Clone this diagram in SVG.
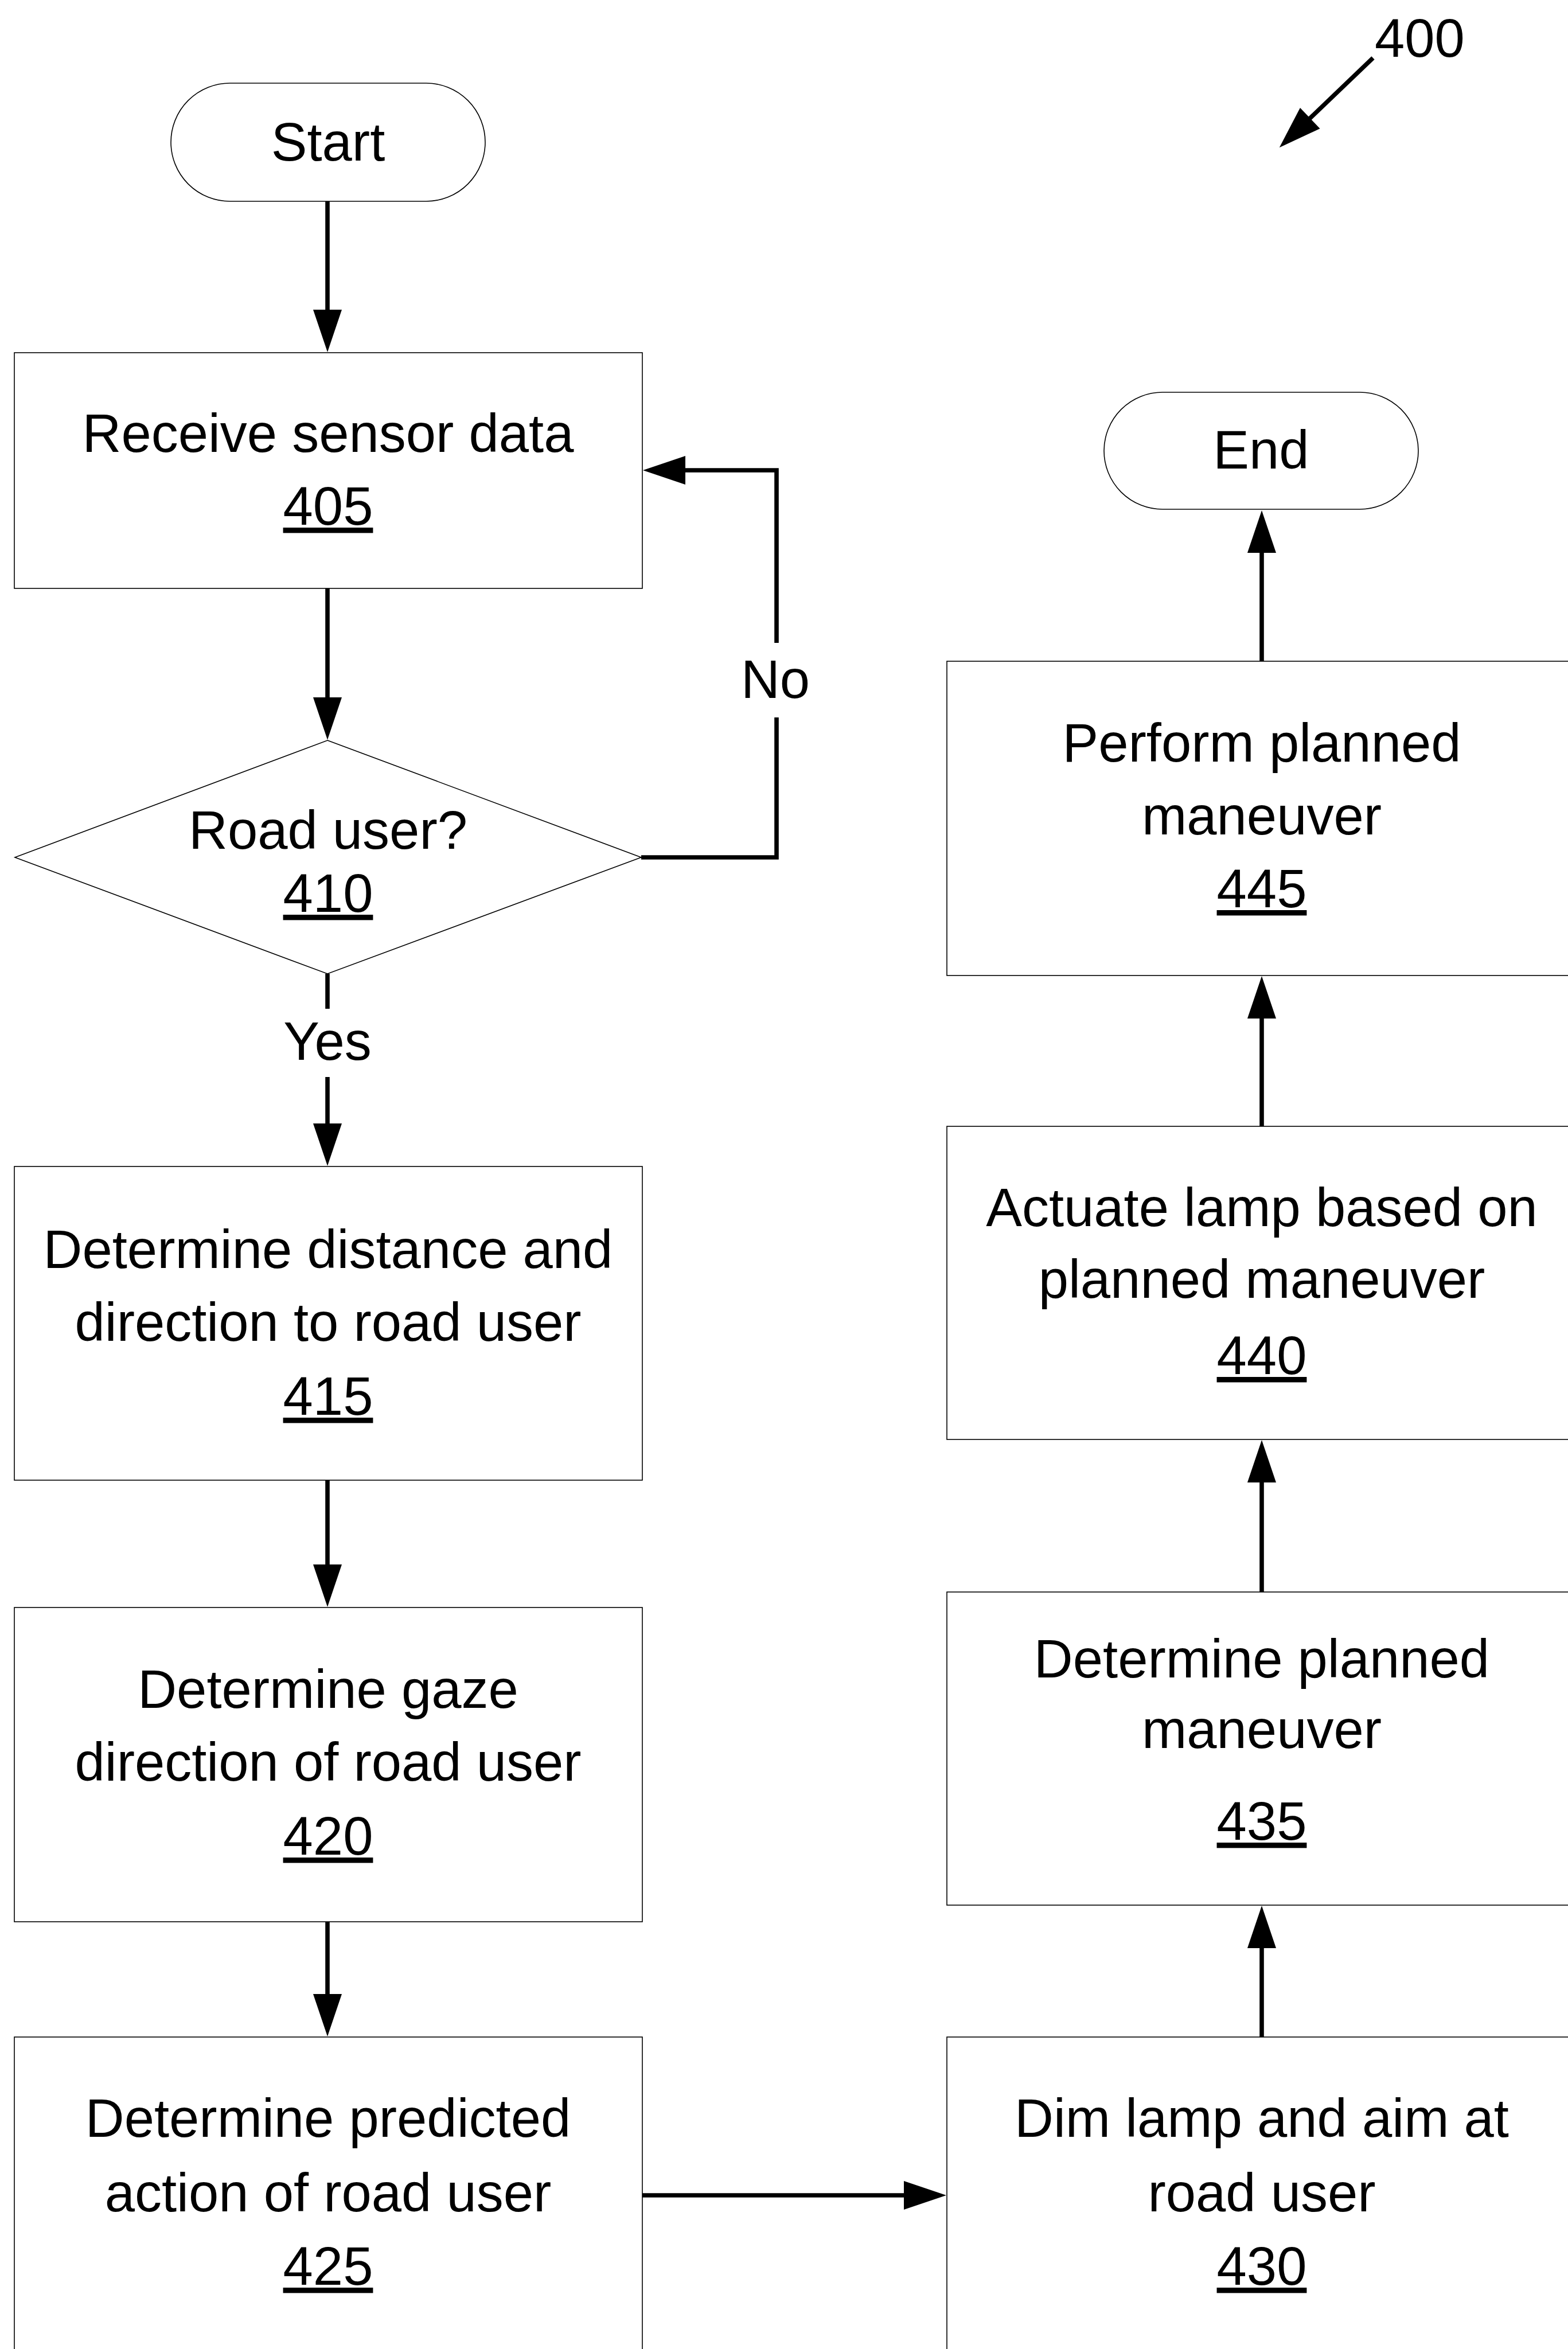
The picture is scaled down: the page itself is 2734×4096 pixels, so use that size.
<svg xmlns="http://www.w3.org/2000/svg" width="2734" height="4096" viewBox="0 0 2734 4096">
<style>
.bg{fill:#fff}
.shape{fill:#fff;stroke:#000;stroke-width:1.6}
.t{font-family:"Liberation Sans",Arial,sans-serif;font-size:94px;fill:#000;text-anchor:middle}
.u{text-decoration:underline}
.c{fill:none;stroke:#000;stroke-width:7.6}
</style>
<defs>
<marker id="ah" markerUnits="userSpaceOnUse" markerWidth="76" markerHeight="52" refX="1" refY="25" orient="auto" overflow="visible">
<path d="M0,0 L74,25 L0,50 z" fill="#000"/>
</marker>
</defs>
<rect class="bg" x="0" y="0" width="2734" height="4096"/>

<g id="start">
<rect class="shape" x="298" y="145" width="548" height="206" rx="103" ry="103"/>
<text class="t" x="572" y="280">Start</text>
</g>

<g id="n405">
<rect class="shape" x="25" y="615" width="1095" height="411"/>
<text class="t" x="572" y="788">Receive sensor data</text>
<text class="t u" x="572" y="915">405</text>
</g>

<g id="n410">
<polygon class="shape" points="571,1291 1118,1495 571,1698 26,1495"/>
<text class="t" x="572" y="1480">Road user?</text>
<text class="t u" x="572" y="1590">410</text>
</g>

<g id="n415">
<rect class="shape" x="25" y="2034" width="1095" height="547"/>
<text class="t" x="572" y="2211">Determine distance and</text>
<text class="t" x="572" y="2338">direction to road user</text>
<text class="t u" x="572" y="2467">415</text>
</g>

<g id="n420">
<rect class="shape" x="25" y="2803" width="1095" height="548"/>
<text class="t" x="572" y="2978">Determine gaze</text>
<text class="t" x="572" y="3105">direction of road user</text>
<text class="t u" x="572" y="3234">420</text>
</g>

<g id="n425">
<rect class="shape" x="25" y="3552" width="1095" height="700"/>
<text class="t" x="572" y="3726">Determine predicted</text>
<text class="t" x="572" y="3856">action of road user</text>
<text class="t u" x="572" y="3984">425</text>
</g>

<g id="n430">
<rect class="shape" x="1651" y="3552" width="1200" height="700"/>
<text class="t" x="2200" y="3726">Dim lamp and aim at</text>
<text class="t" x="2200" y="3856">road user</text>
<text class="t u" x="2200" y="3984">430</text>
</g>

<g id="n435">
<rect class="shape" x="1651" y="2776" width="1200" height="546"/>
<text class="t" x="2200" y="2925">Determine planned</text>
<text class="t" x="2200" y="3048">maneuver</text>
<text class="t u" x="2200" y="3208">435</text>
</g>

<g id="n440">
<rect class="shape" x="1651" y="1964" width="1200" height="546"/>
<text class="t" x="2200" y="2138">Actuate lamp based on</text>
<text class="t" x="2200" y="2263">planned maneuver</text>
<text class="t u" x="2200" y="2396">440</text>
</g>

<g id="n445">
<rect class="shape" x="1651" y="1153" width="1200" height="548"/>
<text class="t" x="2200" y="1328">Perform planned</text>
<text class="t" x="2200" y="1455">maneuver</text>
<text class="t u" x="2200" y="1582">445</text>
</g>

<g id="end">
<rect class="shape" x="1925" y="684" width="548" height="204" rx="102" ry="102"/>
<text class="t" x="2199" y="817">End</text>
</g>

<g id="ref400">
<text class="t" x="2397" y="99" style="text-anchor:start">400</text>
</g>

<g id="connectors">
<path class="c" d="M571,351 V541" marker-end="url(#ah)"/>
<path class="c" d="M571,1026 V1217" marker-end="url(#ah)"/>
<path class="c" d="M1118,1495 H1354 V1251"/>
<path class="c" d="M1354,1121 V820 H1194" marker-end="url(#ah)"/>
<text class="t" x="1352" y="1217">No</text>
<path class="c" d="M571,1698 V1759"/>
<path class="c" d="M571,1878 V1960" marker-end="url(#ah)"/>
<text class="t" x="571" y="1848">Yes</text>
<path class="c" d="M571,2581 V2729" marker-end="url(#ah)"/>
<path class="c" d="M571,3351 V3478" marker-end="url(#ah)"/>
<path class="c" d="M1120,3828 H1577" marker-end="url(#ah)"/>
<path class="c" d="M2200,3552 V3396" marker-end="url(#ah)"/>
<path class="c" d="M2200,2776 V2584" marker-end="url(#ah)"/>
<path class="c" d="M2200,1964 V1775" marker-end="url(#ah)"/>
<path class="c" d="M2200,1153 V963" marker-end="url(#ah)"/>
<path class="c" d="M2394,101 L2283.5,206.8" marker-end="url(#ah)"/>
</g>
</svg>
